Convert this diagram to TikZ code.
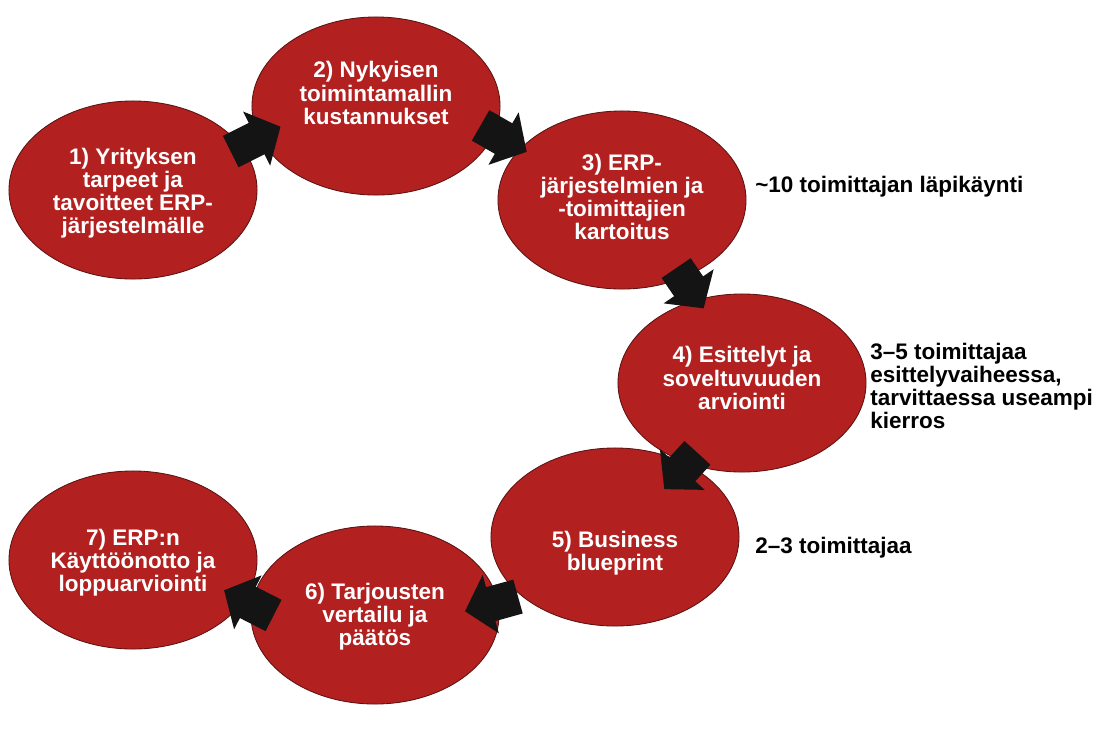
\documentclass[tikz,border=0pt]{standalone}
\usepackage{fontspec}
\setmainfont{Liberation Sans}
\usetikzlibrary{shapes.geometric,arrows.meta,calc}
\definecolor{stagered}{RGB}{178,32,32}
\definecolor{stageedge}{RGB}{90,18,18}
\tikzset{
  stage/.style={ellipse, draw=stageedge, line width=0.6pt, fill=stagered,
    minimum width=6.2cm, minimum height=4.45cm, inner sep=0pt},
  stagetext/.style={text=white, font=\bfseries\fontsize{16}{16.4}\selectfont,
    align=center, inner sep=0pt},
  note/.style={font=\bfseries\fontsize{16}{16.4}\selectfont, align=left,
    inner sep=0pt, anchor=west},
  bigarrow/.style={line width=25pt, -{Triangle[length=19pt,width=42pt]}, black!92}
}

\begin{document}
\begin{tikzpicture}[x=0.025cm, y=-0.025cm]
            \useasboundingbox (0,0) rectangle (1113,733);
            % stages
            \node[stage] (e1) at (133,190) {};
            \node[stage] (e2) at (376,106) {};
            \node[stage] (e3) at (622,200) {};
            \node[stage] (e4) at (742,383) {};
            \node[stage] (e5) at (615,537) {};
            \node[stage] (e6) at (375,615) {};
            \node[stage] (e7) at (133,560) {};
            \node[stagetext] (t1) at ($(e1)+(0,3)$) {1) Yrityksen\\tarpeet ja\\tavoitteet ERP-\\järjestelmälle};
            \node[stagetext] (t2) at ($(e2)+(0,-13)$) {2) Nykyisen\\toimintamallin\\kustannukset};
            \node[stagetext] (t3) at ($(e3)+(0,-3)$) {3) ERP-\\järjestelmien ja\\-toimittajien\\kartoitus};
            \node[stagetext] (t4) at ($(e4)+(0,-5)$) {4) Esittelyt ja\\soveltuvuuden\\arviointi};
            \node[stagetext] (t5) at ($(e5)+(0,16)$) {5) Business\\blueprint};
            \node[stagetext] (t6) at ($(e6)+(0,2)$) {6) Tarjousten\\vertailu ja\\päätös};
            \node[stagetext] (t7) at ($(e7)+(0,3)$) {7) ERP:n\\Käyttöönotto ja\\loppuarviointi};
            % arrows between stages
            \draw[bigarrow, shorten <=-0.30cm, shorten >=-0.59cm] (e1.22) -- (e2.195);
            \draw[bigarrow, shorten <=-0.40cm, shorten >=-0.18cm] (e2.347) -- (e3.153);
            \draw[bigarrow, shorten <=-0.30cm, shorten >=-0.27cm] (e3.308) -- (e4.118);
            \draw[bigarrow, shorten <=-0.36cm, shorten >=4.21cm] (e4.236) -- (e5.230);
            \draw[bigarrow, shorten <=0.08cm, shorten >=-0.86cm] (e5.212) -- (e6.6);
            \draw[bigarrow, shorten <=-0.62cm, shorten >=-0.56cm] (e6.175) -- (e7.340);
            % notes on the right
            \node[note] (n3) at (755,187) {\textasciitilde10 toimittajan läpikäynti};
            \node[note] (n4) at (870,386) {3–5 toimittajaa\\esittelyvaiheessa,\\tarvittaessa useampi\\kierros};
            \node[note] (n5) at (755,548) {2–3 toimittajaa};
\end{tikzpicture}
\end{document}
